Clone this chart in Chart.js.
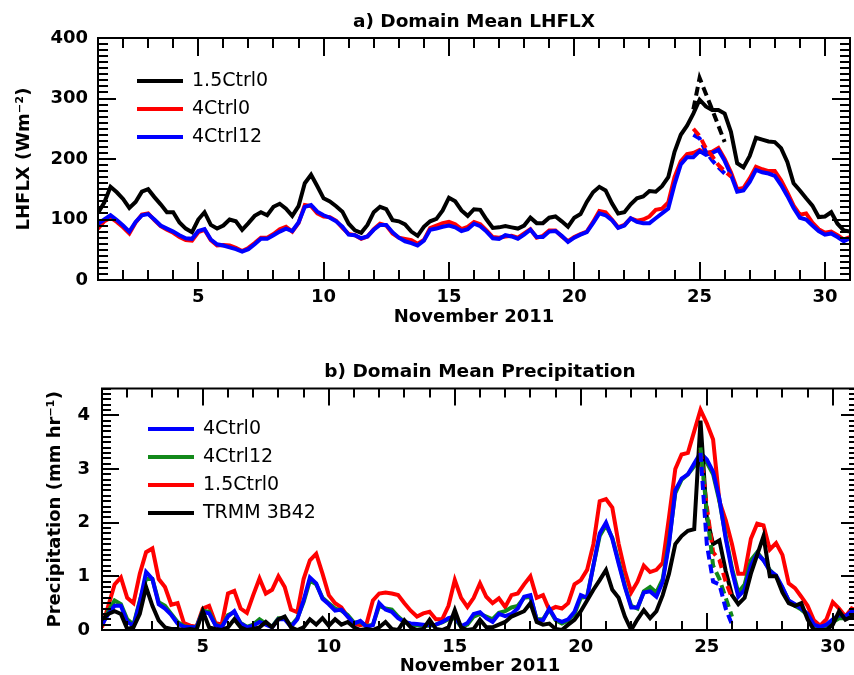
<!DOCTYPE html>
<html>
<head>
<meta charset="utf-8">
<script src="https://cdn.jsdelivr.net/npm/chart.js"></script>
<style>
  html, body { margin: 0; padding: 0; overflow: hidden; background: #fff; }
  body { position: relative; width: 854px; height: 675px; }
  canvas { position: absolute; left: 0; }
</style>
</head>
<body>
<canvas id="lhflx" width="854" height="340" style="top:0"></canvas>
<canvas id="precip" width="870" height="345" style="top:340px"></canvas>
<script>
// time axis, days of November 2011 (6-hourly)
const days = [
  1, 1.25, 1.5, 1.75, 2, 2.25, 2.5, 2.75, 3, 3.25, 3.5, 3.75, 4, 4.25, 4.5, 4.75,
  5, 5.25, 5.5, 5.75, 6, 6.25, 6.5, 6.75, 7, 7.25, 7.5, 7.75, 8, 8.25, 8.5, 8.75,
  9, 9.25, 9.5, 9.75, 10, 10.25, 10.5, 10.75, 11, 11.25, 11.5, 11.75, 12, 12.25, 12.5, 12.75,
  13, 13.25, 13.5, 13.75, 14, 14.25, 14.5, 14.75, 15, 15.25, 15.5, 15.75, 16, 16.25, 16.5, 16.75,
  17, 17.25, 17.5, 17.75, 18, 18.25, 18.5, 18.75, 19, 19.25, 19.5, 19.75, 20, 20.25, 20.5, 20.75,
  21, 21.25, 21.5, 21.75, 22, 22.25, 22.5, 22.75, 23, 23.25, 23.5, 23.75, 24, 24.25, 24.5, 24.75,
  25, 25.25, 25.5, 25.75, 26, 26.25, 26.5, 26.75, 27, 27.25, 27.5, 27.75, 28, 28.25, 28.5, 28.75,
  29, 29.25, 29.5, 29.75, 30, 30.25, 30.5, 30.75, 31
];
const dashDays = [24.75, 25, 25.25, 25.5, 25.75, 26, 26.25];
const dayTicks = [5, 10, 15, 20, 25, 30];

// a) LHFLX (W m-2)
const lh15Ctrl0 = [
  111, 128, 154, 145, 134, 119, 129, 146, 150, 137, 125, 112, 112, 95, 85, 79,
  100, 112, 91, 85, 90, 100, 97, 83, 94, 106, 112, 107, 121, 126, 118, 106,
  122, 160, 174, 155, 135, 130, 122, 113, 93, 82, 78, 91, 112, 121, 117, 99,
  97, 92, 80, 73, 88, 97, 101, 115, 136, 130, 115, 106, 117, 116, 100, 86,
  87, 89, 87, 85, 90, 103, 94, 94, 103, 105, 97, 88, 103, 109, 129, 145,
  154, 148, 127, 110, 112, 125, 135, 138, 147, 146, 155, 170, 212, 240, 255, 275,
  298, 287, 281, 281, 275, 245, 193, 186, 205, 235, 232, 229, 228, 218, 195, 160,
  148, 135, 123, 104, 105, 112, 93, 82, 80
];
const lh4Ctrl0 = [
  85, 97, 103, 96, 87, 77, 95, 108, 110, 99, 89, 83, 78, 71, 66, 65,
  79, 83, 66, 57, 58, 57, 53, 48, 53, 61, 70, 70, 76, 84, 88, 80,
  94, 124, 122, 110, 105, 104, 98, 86, 76, 74, 68, 72, 84, 93, 90, 77,
  70, 68, 66, 60, 66, 86, 90, 94, 96, 92, 84, 88, 96, 92, 82, 71,
  70, 72, 73, 70, 77, 84, 70, 73, 82, 82, 72, 64, 71, 76, 80, 96,
  114, 112, 100, 87, 91, 102, 98, 100, 105, 116, 118, 128, 170, 196, 208, 210,
  215, 210, 212, 218, 200, 178, 150, 152, 168, 187, 183, 180, 180, 165, 145, 123,
  108, 110, 95, 84, 78, 80, 74, 67, 71
];
const lh4Ctrl12 = [
  93, 100, 107, 99, 90, 80, 96, 107, 109, 100, 90, 85, 80, 74, 69, 68,
  81, 84, 67, 59, 57, 54, 51, 47, 51, 59, 68, 68, 74, 80, 85, 81,
  95, 121, 124, 113, 107, 103, 97, 88, 75, 74, 69, 72, 83, 91, 91, 79,
  70, 64, 61, 57, 65, 83, 85, 88, 90, 87, 81, 84, 93, 89, 80, 69,
  68, 74, 72, 68, 75, 83, 71, 71, 80, 81, 73, 63, 70, 75, 79, 94,
  110, 107, 99, 86, 90, 102, 96, 94, 94, 102, 110, 118, 158, 191, 203, 203,
  213, 207, 210, 215, 197, 174, 146, 148, 162, 182, 178, 176, 172, 157, 139, 119,
  103, 100, 90, 81, 75, 77, 71, 64, 69
];
const lh15Ctrl0Dash = [282, 334, 308, 282, 255, 228, null];
const lh4Ctrl0Dash = [250, 238, 218, 205, 190, 180, 171];
const lh4Ctrl12Dash = [240, 234, 212, 198, 186, 176, null];

// b) precipitation (mm hr-1)
const pr4Ctrl0 = [
  0.1, 0.3, 0.45, 0.45, 0.15, 0.08, 0.52, 1.08, 0.95, 0.48, 0.4, 0.28, 0.12, 0.06, 0.05, 0.05,
  0.34, 0.31, 0.09, 0.05, 0.25, 0.35, 0.12, 0.05, 0.08, 0.15, 0.1, 0.05, 0.2, 0.2, 0.06, 0.2,
  0.55, 0.98, 0.87, 0.58, 0.48, 0.36, 0.38, 0.25, 0.12, 0.17, 0.06, 0.09, 0.5, 0.38, 0.34, 0.22,
  0.15, 0.12, 0.11, 0.1, 0.09, 0.1, 0.15, 0.22, 0.25, 0.07, 0.13, 0.3, 0.33, 0.22, 0.15, 0.3,
  0.26, 0.3, 0.4, 0.62, 0.65, 0.18, 0.18, 0.4, 0.2, 0.15, 0.2, 0.34, 0.65, 0.6, 1.2, 1.8,
  2.0, 1.7, 1.24, 0.8, 0.42, 0.42, 0.7, 0.72, 0.62, 0.9, 1.6, 2.6, 2.82, 2.9, 3.1, 3.3,
  3.18, 2.95, 2.45, 1.7, 1.1, 0.62, 0.75, 1.2, 1.42, 1.3, 1.1, 1.02, 0.8, 0.55, 0.48, 0.4,
  0.3, 0.1, 0.06, 0.1, 0.2, 0.28, 0.25, 0.35, 0.38
];
const pr4Ctrl12 = [
  0.1, 0.35, 0.55, 0.48, 0.2, 0.1, 0.55, 0.95, 0.95, 0.52, 0.45, 0.3, 0.15, 0.07, 0.05, 0.05,
  0.36, 0.34, 0.1, 0.05, 0.28, 0.33, 0.13, 0.06, 0.1, 0.2, 0.12, 0.06, 0.22, 0.22, 0.08, 0.22,
  0.52, 0.92, 0.85, 0.6, 0.5, 0.4, 0.36, 0.28, 0.14, 0.15, 0.07, 0.1, 0.45, 0.4, 0.38, 0.25,
  0.15, 0.1, 0.09, 0.08, 0.08, 0.1, 0.14, 0.2, 0.22, 0.06, 0.1, 0.25, 0.3, 0.25, 0.2, 0.32,
  0.35, 0.42, 0.45, 0.6, 0.62, 0.2, 0.2, 0.38, 0.18, 0.12, 0.18, 0.3, 0.6, 0.62, 1.2, 1.75,
  1.95, 1.72, 1.28, 0.82, 0.45, 0.4, 0.72, 0.8, 0.7, 0.95, 1.65, 2.55, 2.8, 2.9, 3.05, 3.2,
  3.12, 2.9, 2.4, 1.75, 1.15, 0.7, 0.85, 1.3, 1.45, 1.3, 1.12, 1.0, 0.78, 0.55, 0.45, 0.38,
  0.28, 0.08, 0.05, 0.08, 0.15, 0.22, 0.22, 0.35, 0.38
];
const pr15Ctrl0 = [
  0.05, 0.45, 0.85, 0.98, 0.6, 0.5, 1.05, 1.45, 1.52, 0.95, 0.8, 0.47, 0.5, 0.13, 0.08, 0.06,
  0.4, 0.45, 0.13, 0.1, 0.68, 0.73, 0.4, 0.32, 0.65, 0.96, 0.68, 0.75, 1.0, 0.8, 0.38, 0.33,
  0.95, 1.3, 1.42, 1.05, 0.65, 0.5, 0.42, 0.25, 0.12, 0.09, 0.12, 0.55, 0.68, 0.7, 0.68, 0.65,
  0.5, 0.36, 0.25, 0.31, 0.34, 0.2, 0.2, 0.45, 0.93, 0.6, 0.43, 0.6, 0.87, 0.62, 0.5, 0.59,
  0.43, 0.65, 0.68, 0.85, 1.0, 0.6, 0.65, 0.37, 0.43, 0.4, 0.5, 0.85, 0.93, 1.12, 1.6, 2.4,
  2.44, 2.28, 1.61, 1.1, 0.7, 0.9, 1.2, 1.08, 1.12, 1.25, 2.1, 3.0, 3.27, 3.3, 3.7, 4.1,
  3.85, 3.55, 2.4, 2.05, 1.6, 1.05, 1.05, 1.7, 1.98, 1.95, 1.5, 1.62, 1.4, 0.87, 0.78, 0.62,
  0.45, 0.18, 0.08, 0.2, 0.52, 0.4, 0.25, 0.4, 0.35
];
const prTrmm = [
  0.2, 0.3, 0.35, 0.3, 0.02, 0.05, 0.3, 0.8, 0.45, 0.18, 0.05, 0.02, 0.02, 0, 0.02, 0,
  0.35, 0.05, 0.02, 0, 0.05, 0.2, 0.05, 0, 0.02, 0.05, 0.15, 0.05, 0.2, 0.25, 0.05, 0,
  0.05, 0.2, 0.1, 0.22, 0.08, 0.2, 0.1, 0.15, 0.05, 0, 0.02, 0, 0.05, 0.15, 0.02, 0,
  0.18, 0.05, 0, 0.02, 0.19, 0.02, 0, 0.05, 0.37, 0.05, 0, 0.02, 0.19, 0.05, 0.05, 0.1,
  0.15, 0.25, 0.3, 0.35, 0.5, 0.15, 0.1, 0.12, 0.02, 0, 0.1, 0.19, 0.35, 0.55, 0.75, 0.93,
  1.12, 0.75, 0.6, 0.25, 0, 0.2, 0.37, 0.22, 0.35, 0.65, 1.05, 1.6, 1.75, 1.85, 1.88, 3.9,
  2.1, 1.6, 1.67, 1.1, 0.65, 0.48, 0.6, 1.05, 1.4, 1.75, 1.0, 1.0, 0.7, 0.5, 0.45, 0.5,
  0.2, 0, 0, 0, 0.1, 0.35, 0.19, 0.25, 0.3
];
const pr15Ctrl0Dash = [3.35, 2.3, 1.45, 1.3, 0.9, 0.6, null];
const pr4Ctrl12Dash = [3.4, 2.2, 1.2, 0.95, 0.6, 0.25, null];
const pr4Ctrl0Dash = [3.3, 1.6, 0.9, 0.85, 0.4, 0.1, null];

const BLACK = '#000000', RED = '#ff0000', BLUE = '#0000ff', GREEN = '#12891a';

Chart.defaults.font.family = '"DejaVu Sans", sans-serif';
Chart.defaults.color = '#000';

function series(label, color, xs, ys, dashed) {
  return {
    label: label,
    data: xs.map((x, i) => ({x: x, y: ys[i]})),
    borderColor: color,
    backgroundColor: color,
    borderWidth: 4,
    borderDash: dashed ? [9, 5] : [],
    pointRadius: 0,
    tension: 0,
    fill: false,
    spanGaps: false
  };
}

// box round the plot with inward ticks on all four sides
const frameTicks = {
  id: 'frameTicks',
  afterDatasetsDraw(chart, args, o) {
    const {ctx, chartArea: a} = chart;
    const x = chart.scales.x, y = chart.scales.y;
    ctx.save();
    ctx.strokeStyle = '#000';
    ctx.lineWidth = 2;
    ctx.beginPath();
    for (let d = Math.ceil(x.min); d <= x.max; d++) {
      const px = Math.round(x.getPixelForValue(d));
      const len = d % o.xMajor === 0 ? o.majorLen : o.minorLen;
      ctx.moveTo(px, a.bottom); ctx.lineTo(px, a.bottom - len);
      ctx.moveTo(px, a.top); ctx.lineTo(px, a.top + len);
    }
    const n = Math.round((y.max - y.min) / o.yMinor);
    for (let i = 0; i <= n; i++) {
      const py = Math.round(y.getPixelForValue(y.min + i * o.yMinor));
      const len = i % o.yEvery === 0 ? o.majorLen : o.minorLen;
      ctx.moveTo(a.left, py); ctx.lineTo(a.left + len, py);
      ctx.moveTo(a.right, py); ctx.lineTo(a.right - len, py);
    }
    ctx.stroke();
    ctx.strokeRect(a.left, a.top, a.right - a.left, a.bottom - a.top);
    ctx.restore();
  }
};

// legend drawn inside the plot, upper left
const insetLegend = {
  id: 'insetLegend',
  afterDatasetsDraw(chart, args, o) {
    const {ctx, chartArea: a} = chart;
    ctx.save();
    ctx.font = '19px "DejaVu Sans"';
    ctx.textBaseline = 'middle';
    ctx.textAlign = 'left';
    o.labels.forEach((lab, i) => {
      const ds = chart.data.datasets.find(d => d.label === lab);
      const y0 = a.top + o.dy + i * o.gap;
      const x0 = a.left + o.dx;
      ctx.strokeStyle = ds.borderColor;
      ctx.lineWidth = 4;
      ctx.beginPath();
      ctx.moveTo(x0, y0); ctx.lineTo(x0 + o.lineLen, y0);
      ctx.stroke();
      ctx.fillStyle = '#000';
      ctx.fillText(lab, x0 + o.lineLen + o.textGap, y0);
    });
    ctx.restore();
  }
};

const tickFont = {size: 18, weight: 'bold'};

function xAxis(height) {
  return {
    type: 'linear', min: 1, max: 31,
    grid: {display: false, drawTicks: false},
    border: {display: false},
    afterBuildTicks: s => { s.ticks = dayTicks.map(v => ({value: v})); },
    afterFit: s => { s.height = height; },
    ticks: {font: tickFont, padding: 7, color: '#000', maxRotation: 0, autoSkip: false},
    title: {display: true, text: 'November 2011', font: tickFont, color: '#000', padding: {top: 4, bottom: 4}}
  };
}

function yAxis(min, max, step, width, pad, title, titlePad) {
  return {
    type: 'linear', min: min, max: max,
    grid: {display: false, drawTicks: false},
    border: {display: false},
    afterFit: s => { s.width = width; },
    ticks: {stepSize: step, includeBounds: false, font: tickFont, padding: pad, color: '#000'},
    title: {display: true, text: title, font: tickFont, color: '#000', padding: {top: titlePad, bottom: 0}}
  };
}

new Chart(document.getElementById('lhflx'), {
  type: 'line',
  data: {
    datasets: [
      series('1.5Ctrl0 dashed', BLACK, dashDays, lh15Ctrl0Dash, true),
      series('4Ctrl0 dashed', RED, dashDays, lh4Ctrl0Dash, true),
      series('4Ctrl12 dashed', BLUE, dashDays, lh4Ctrl12Dash, true),
      series('4Ctrl12', BLUE, days, lh4Ctrl12),
      series('4Ctrl0', RED, days, lh4Ctrl0),
      series('1.5Ctrl0', BLACK, days, lh15Ctrl0)
    ]
  },
  options: {
    responsive: false,
    animation: false,
    devicePixelRatio: 1,
    layout: {padding: {left: 0, right: 4, top: 0, bottom: 8}},
    scales: {
      x: xAxis(52),
      y: yAxis(0, 400, 100, 98, 10, 'LHFLX (Wm\u207B\u00B2)', 13.7)
    },
    plugins: {
      legend: {display: false},
      tooltip: {enabled: false},
      title: {display: true, fullSize: false, text: 'a) Domain Mean LHFLX', color: '#000',
        font: {size: 18.5, weight: 'bold'}, padding: {top: 10.9, bottom: 4.9}},
      frameTicks: {xMajor: 5, yMinor: 10, yEvery: 10, majorLen: 18, minorLen: 10},
      insetLegend: {dx: 39, dy: 43, gap: 28, lineLen: 46, textGap: 9, labels: ['1.5Ctrl0', '4Ctrl0', '4Ctrl12']}
    }
  },
  plugins: [frameTicks, insetLegend]
});

new Chart(document.getElementById('precip'), {
  type: 'line',
  data: {
    datasets: [
      series('4Ctrl0 dashed', BLUE, dashDays, pr4Ctrl0Dash, true),
      series('4Ctrl12 dashed', GREEN, dashDays, pr4Ctrl12Dash, true),
      series('1.5Ctrl0 dashed', RED, dashDays, pr15Ctrl0Dash, true),
      series('TRMM 3B42', BLACK, days, prTrmm),
      series('4Ctrl0', BLUE, days, pr4Ctrl0),
      series('4Ctrl12', GREEN, days, pr4Ctrl12),
      series('1.5Ctrl0', RED, days, pr15Ctrl0)
    ]
  },
  options: {
    responsive: false,
    animation: false,
    devicePixelRatio: 1,
    layout: {padding: {left: 0, right: 12, top: 0, bottom: 4}},
    scales: {
      x: xAxis(51),
      y: yAxis(0, 4.5, 1, 102, 12, 'Precipitation (mm hr\u207B\u00B9)', 44.2)
    },
    plugins: {
      legend: {display: false},
      tooltip: {enabled: false},
      title: {display: true, fullSize: false, text: 'b) Domain Mean Precipitation', color: '#000',
        font: {size: 18.5, weight: 'bold'}, padding: {top: 21.4, bottom: 4.9}},
      frameTicks: {xMajor: 5, yMinor: 0.1, yEvery: 10, majorLen: 17, minorLen: 9},
      insetLegend: {dx: 46, dy: 40.5, gap: 28, lineLen: 46, textGap: 9, labels: ['4Ctrl0', '4Ctrl12', '1.5Ctrl0', 'TRMM 3B42']}
    }
  },
  plugins: [frameTicks, insetLegend]
});
</script>
</body>
</html>
